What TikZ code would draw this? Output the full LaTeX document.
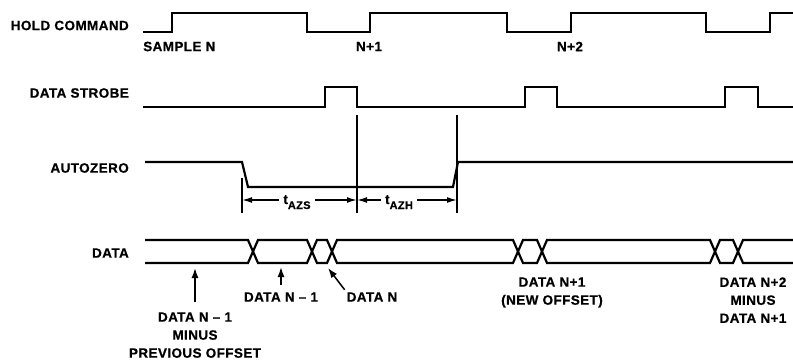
\documentclass[tikz,border=0pt]{standalone}
\usepackage{fontspec}
\setmainfont{Liberation Sans}[LetterSpace=3, BoldFeatures={FakeBold=0.6}]
\usetikzlibrary{arrows.meta}
\begin{document}
\begin{tikzpicture}[x=1pt,y=-1pt,
  sig/.style={line width=2.2pt, line join=miter},
  thin/.style={line width=1.1pt},
  lbl/.style={font=\fontsize{13.5}{18}\selectfont\bfseries, inner sep=0pt, align=center},
  arr/.style={line width=1.5pt, -{Latex[length=10pt,width=7pt]}},
  dimarr/.style={line width=1.5pt, {Latex[length=10pt,width=6pt]}-{Latex[length=10pt,width=6pt]}}]
\useasboundingbox (0,0) rectangle (793,361);

% signal names
\node[lbl, anchor=east] (hold) at (129,25.5) {HOLD COMMAND};
\node[lbl, anchor=east] (strobe) at (129,93) {DATA STROBE};
\node[lbl, anchor=east] (az) at (129,168) {AUTOZERO};
\node[lbl, anchor=east] (data) at (129,253) {DATA};

% hold command
\draw[sig] (143,32) -- (172,32) -- (172,13) -- (307,13) -- (307,32) -- (370,32) -- (370,13)
  -- (507,13) -- (507,32) -- (571,32) -- (571,13) -- (706,13) -- (706,32) -- (770,32)
  -- (770,13) -- (795,13);
\node[lbl, anchor=west] (sn) at (143,46.5) {SAMPLE N};
\node[lbl] (n1) at (369,46.5) {N+1};
\node[lbl] (n2) at (570,46.5) {N+2};

% data strobe
\draw[sig] (143,107) -- (325,107) -- (325,87) -- (357,87) -- (357,107) -- (525,107)
  -- (525,87) -- (557,87) -- (557,107) -- (725,107) -- (725,87) -- (758,87) -- (758,107) -- (795,107);

% autozero
\draw[sig] (145,162) -- (242,162) -- (248,187) -- (453,187) -- (458,162) -- (795,162);

% timing marks
\coordinate (vA1) at (242,178); \coordinate (vA2) at (242,213);
\coordinate (vB1) at (357,115); \coordinate (vB2) at (357,213);
\coordinate (vC1) at (457,115); \coordinate (vC2) at (457,213);
\draw[thin] (vA1) -- (vA2);
\draw[thin] (vB1) -- (vB2);
\draw[thin] (vC1) -- (vC2);
\coordinate (azsL) at (242,200);
\coordinate (azsM) at (357,200);
\coordinate (azsR) at (457,200);
\draw[dimarr] (azsL) -- (azsM);
\draw[dimarr] (azsM) -- (azsR);
\node[lbl, fill=white, inner xsep=4pt, inner ysep=1pt, anchor=base] (tazs) at (297,204)
  {t\raisebox{-5pt}{\fontsize{11}{11}\selectfont AZS}};
\node[lbl, fill=white, inner xsep=4pt, inner ysep=1pt, anchor=base] (tazh) at (399,204)
  {t\raisebox{-5pt}{\fontsize{11}{11}\selectfont AZH}};

% data bus
\draw[sig] (145,240) -- (248,240) -- (258,263) -- (307,263) -- (317,240) -- (327,240) -- (337,263)
  -- (513,263) -- (523,240) -- (537,240) -- (547,263) -- (710,263) -- (720,240) -- (733,240)
  -- (743,263) -- (795,263);
\draw[sig] (145,263) -- (248,263) -- (258,240) -- (307,240) -- (317,263) -- (327,263) -- (337,240)
  -- (513,240) -- (523,263) -- (537,263) -- (547,240) -- (710,240) -- (720,263) -- (733,263)
  -- (743,240) -- (795,240);

% data labels
\node[lbl, anchor=north] (l1) at (195,312.2) {DATA N -- 1\\MINUS\\PREVIOUS OFFSET};
\node[lbl] (l2) at (281,297) {DATA N -- 1};
\node[lbl] (l3) at (372,297) {DATA N};
\node[lbl, anchor=north] (l4) at (552,277.2) {DATA N+1\\(NEW OFFSET)};
\node[lbl, anchor=north] (l5) at (753,277.2) {DATA N+2\\MINUS\\DATA N+1};

\coordinate (p1) at (195,268);
\coordinate (p2) at (281,267);
\coordinate (p3) at (328,268);
\draw[arr, shorten <=10pt] (l1.north) -- (p1);
\draw[arr, shorten <=7pt] (l2.north) -- (p2);
\draw[arr, shorten <=3pt] (l3.north west) -- (p3);
\end{tikzpicture}
\end{document}
